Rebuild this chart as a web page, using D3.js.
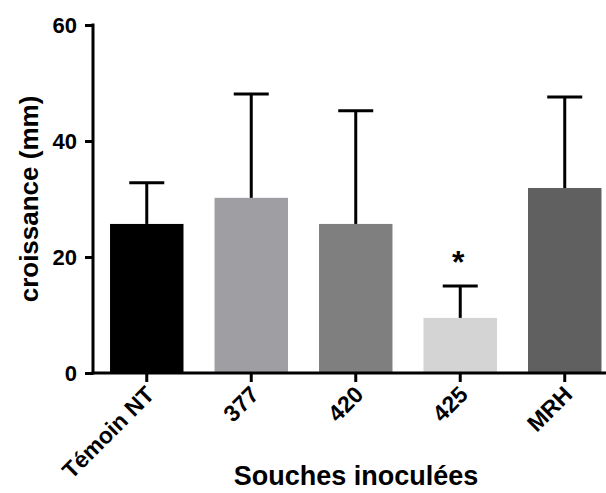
<!DOCTYPE html>
<html>
<head>
<meta charset="utf-8">
<script src="https://cdn.jsdelivr.net/npm/d3@7"></script>
<style>
  html, body { margin: 0; padding: 0; background: #fff; }
  svg { display: block; }
  text { font-family: "Liberation Sans", Arial, Helvetica, sans-serif; fill: #000; }
</style>
</head>
<body>
<svg id="chart" width="606" height="493"></svg>
<script>
const categories = ["Témoin NT", "377", "420", "425", "MRH"];
const means = [25.7, 30.2, 25.7, 9.5, 31.9];
const errors = [7.1, 17.9, 19.5, 5.5, 15.7];
const colors = ["#000000", "#9e9ea3", "#7f7f7f", "#d4d4d4", "#606060"];
const significance = ["", "", "", "*", ""];
const yTicks = [0, 20, 40, 60];
const yLabel = "croissance (mm)";
const xLabel = "Souches inoculées";

const svg = d3.select("#chart");
const axisX0 = 93, plotTop = 25, plotBottom = 373;

const y = d3.scaleLinear().domain([0, 60]).range([plotBottom, plotTop]);
const x = d3.scaleBand().domain(categories)
  .range([axisX0, 618.5]).paddingInner(0.297).paddingOuter(0.163);

// bars
svg.selectAll("rect.bar").data(categories).enter().append("rect")
  .attr("class", "bar")
  .attr("x", d => x(d))
  .attr("width", x.bandwidth())
  .attr("y", (d, i) => y(means[i]))
  .attr("height", (d, i) => y(0) - y(means[i]))
  .attr("fill", (d, i) => colors[i]);

// error bars
const capHalf = 17.5;
const eg = svg.append("g").attr("stroke", "#000").attr("stroke-width", 3);
categories.forEach((c, i) => {
  const cx = x(c) + x.bandwidth() / 2;
  eg.append("line").attr("x1", cx).attr("x2", cx)
    .attr("y1", y(means[i])).attr("y2", y(means[i] + errors[i]));
  eg.append("line").attr("x1", cx - capHalf).attr("x2", cx + capHalf)
    .attr("y1", y(means[i] + errors[i])).attr("y2", y(means[i] + errors[i]));
});

// significance
categories.forEach((c, i) => {
  if (!significance[i]) return;
  svg.append("text")
    .attr("x", x(c) + x.bandwidth() / 2 - 2)
    .attr("y", y(means[i] + errors[i]) - 13)
    .attr("text-anchor", "middle")
    .attr("font-size", 32).attr("font-weight", "bold")
    .text(significance[i]);
});

// y axis
const yAxis = d3.axisLeft(y).tickValues(yTicks).tickSize(8).tickPadding(8).tickFormat(d3.format("d"));
const gy = svg.append("g").attr("transform", `translate(${axisX0},0)`).call(yAxis);
gy.select(".domain").remove();
gy.append("line").attr("x1", 0).attr("x2", 0).attr("y1", plotTop - 1.5).attr("y2", plotBottom + 1.5)
  .attr("stroke", "#000").attr("stroke-width", 3);
gy.selectAll(".tick line").attr("stroke", "#000").attr("stroke-width", 3);
gy.selectAll(".tick text").attr("font-size", 22).attr("font-weight", "bold")
  .attr("font-family", "'Liberation Sans', Arial, sans-serif").attr("fill", "#000");

// x axis
const xAxis = d3.axisBottom(x).tickSize(9).tickSizeOuter(0);
const gx = svg.append("g").attr("transform", `translate(0,${plotBottom})`).call(xAxis);
gx.select(".domain").remove();
gx.append("line").attr("x1", axisX0 - 1.5).attr("x2", 606).attr("y1", 0).attr("y2", 0)
  .attr("stroke", "#000").attr("stroke-width", 3);
gx.selectAll(".tick line").attr("stroke", "#000").attr("stroke-width", 3);
gx.selectAll(".tick text")
  .attr("font-size", 23).attr("font-weight", "bold")
  .attr("font-family", "'Liberation Sans', Arial, sans-serif").attr("fill", "#000")
  .attr("text-anchor", "end")
  .attr("dy", null)
  .attr("y", null)
  .attr("transform", "translate(9,23) rotate(-45)");

// axis titles
svg.append("text")
  .attr("transform", `translate(38,199) rotate(-90)`)
  .attr("text-anchor", "middle")
  .attr("font-size", 26).attr("font-weight", "bold")
  .text(yLabel);

svg.append("text")
  .attr("x", 356).attr("y", 485)
  .attr("text-anchor", "middle")
  .attr("font-size", 27).attr("font-weight", "bold")
  .text(xLabel);
</script>
</body>
</html>
